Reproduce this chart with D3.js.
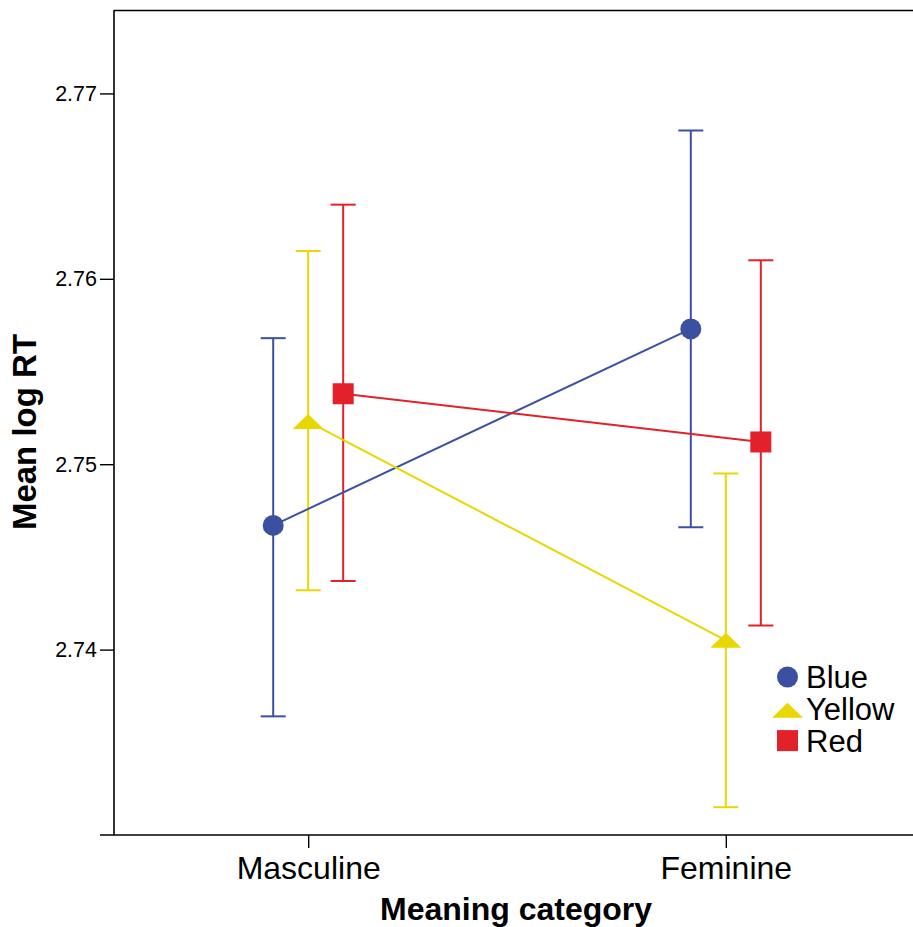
<!DOCTYPE html>
<html><head><meta charset="utf-8">
<script src="https://cdn.jsdelivr.net/npm/d3@7/dist/d3.min.js"></script>
<style>body{margin:0;background:#fff}svg{display:block}text{font-family:"Liberation Sans",Arial,sans-serif;fill:#000}</style>
</head><body>
<svg id="c" width="913" height="927"></svg>
<script>
const categories = ["Masculine", "Feminine"];
const seriesNames = ["Blue", "Yellow", "Red"];
const blueMean = [2.7467, 2.7573];
const blueLow = [2.7364, 2.7466];
const blueHigh = [2.7568, 2.7680];
const yellowMean = [2.7523, 2.7405];
const yellowLow = [2.7432, 2.7315];
const yellowHigh = [2.7615, 2.7495];
const redMean = [2.7538, 2.7512];
const redLow = [2.7437, 2.7413];
const redHigh = [2.7640, 2.7610];
const yTicks = [2.74, 2.75, 2.76, 2.77];

const colors = {Blue: "#3c50a2", Yellow: "#e8d700", Red: "#e2212a"};
const shapes = {Blue: "circle", Yellow: "triangle", Red: "square"};
const series = [
  {name: "Blue", mean: blueMean, low: blueLow, high: blueHigh, off: -35},
  {name: "Yellow", mean: yellowMean, low: yellowLow, high: yellowHigh, off: 0},
  {name: "Red", mean: redMean, low: redLow, high: redHigh, off: 35}
];

const svg = d3.select("#c");
const L = 114, R = 913, T = 10, B = 835;
const x = d3.scalePoint().domain(categories).range([L, 920]).padding(0.465);
const y = d3.scaleLinear().domain([2.73, 2.7745]).range([B, T]);

// frame
svg.append("line").attr("x1", L).attr("x2", R).attr("y1", T + 0.5).attr("y2", T + 0.5).attr("stroke", "#000").attr("stroke-width", 1.6);
svg.append("line").attr("x1", L).attr("x2", L).attr("y1", T).attr("y2", B).attr("stroke", "#000").attr("stroke-width", 1.6);
svg.append("line").attr("x1", 100).attr("x2", R).attr("y1", B).attr("y2", B).attr("stroke", "#000").attr("stroke-width", 1.6);

// y axis
const yAxis = d3.axisLeft(y).tickValues(yTicks).tickSize(14).tickPadding(3).tickFormat(d3.format(".2f"));
const gy = svg.append("g").attr("transform", `translate(${L},0)`).call(yAxis);
gy.select(".domain").remove();
gy.selectAll(".tick line").attr("stroke", "#000").attr("stroke-width", 1.4);
gy.selectAll(".tick text").style("font-size", "21.5px").style("font-family", '"Liberation Sans",Arial,sans-serif').attr("fill", "#000");

// x axis
const xAxis = d3.axisBottom(x).tickSize(13).tickPadding(8);
const gx = svg.append("g").attr("transform", `translate(0,${B})`).call(xAxis);
gx.select(".domain").remove();
gx.selectAll(".tick line").attr("stroke", "#000").attr("stroke-width", 1.4);
gx.selectAll(".tick text").style("font-size", "32px").style("font-family", '"Liberation Sans",Arial,sans-serif').attr("fill", "#000");

// titles
svg.append("text").attr("x", 516).attr("y", 920).attr("text-anchor", "middle")
  .style("font-size", "32px").style("font-weight", "bold").text("Meaning category");
svg.append("text").attr("transform", "translate(36,432) rotate(-90)").attr("text-anchor", "middle")
  .style("font-size", "33px").style("font-weight", "bold").text("Mean log RT");

function marker(g, shape, cx, cy, color) {
  if (shape === "circle") g.append("circle").attr("cx", cx).attr("cy", cy).attr("r", 10.5).attr("fill", color);
  else if (shape === "square") g.append("rect").attr("x", cx - 10.5).attr("y", cy - 10.5).attr("width", 21).attr("height", 21).attr("fill", color);
  else g.append("path").attr("d", `M${cx - 15.5},${cy + 7.5}L${cx + 15.5},${cy + 7.5}L${cx},${cy - 7.5}Z`).attr("fill", color);
}

const plot = svg.append("g");
series.forEach(s => {
  const c = colors[s.name];
  const g = plot.append("g");
  categories.forEach((cat, i) => {
    const cx = x(cat) + s.off;
    g.append("line").attr("x1", cx).attr("x2", cx).attr("y1", y(s.low[i])).attr("y2", y(s.high[i])).attr("stroke", c).attr("stroke-width", 2);
    [s.low[i], s.high[i]].forEach(v => {
      g.append("line").attr("x1", cx - 12.5).attr("x2", cx + 12.5).attr("y1", y(v)).attr("y2", y(v)).attr("stroke", c).attr("stroke-width", 2);
    });
  });
});
series.forEach(s => {
  const c = colors[s.name];
  const line = d3.line().x((d, i) => x(categories[i]) + s.off).y(d => y(d));
  plot.append("path").attr("d", line(s.mean)).attr("stroke", c).attr("stroke-width", 2).attr("fill", "none");
});
series.forEach(s => {
  categories.forEach((cat, i) => marker(plot, shapes[s.name], x(cat) + s.off, y(s.mean[i]), colors[s.name]));
});

// legend
const lg = svg.append("g");
seriesNames.forEach((n, i) => {
  const cy = 677 + i * 31.8;
  marker(lg, shapes[n], 787.5, cy + (n === "Yellow" ? 1.5 : 0), colors[n]);
  lg.append("text").attr("x", 806).attr("y", cy + 11).style("font-size", "31px").text(n);
});
</script>
</body></html>
